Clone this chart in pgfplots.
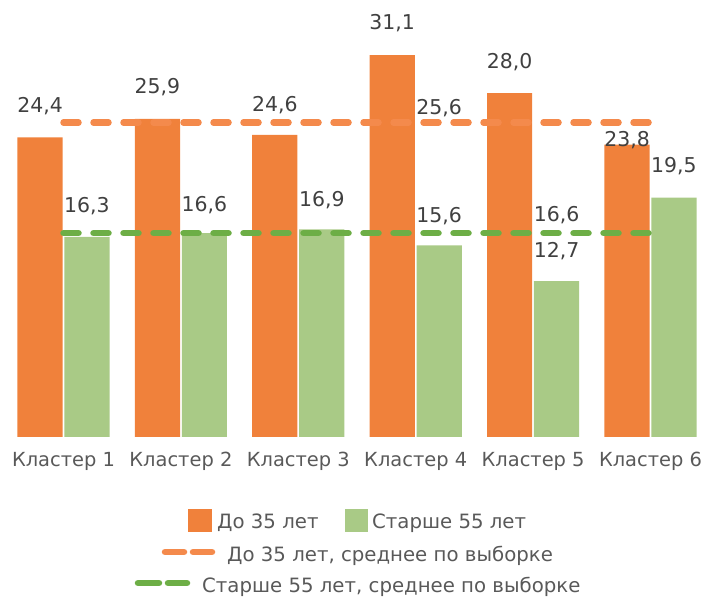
\documentclass[border=0pt]{standalone}
\usepackage{fontspec}
\setmainfont{DejaVu Sans}
\usepackage{pgfplots}
\pgfplotsset{compat=1.18}
\definecolor{obar}{HTML}{F0813B}
\definecolor{gbar}{HTML}{A9CA86}
\definecolor{oline}{HTML}{F48A4C}
\definecolor{gline}{HTML}{6DAE46}
\definecolor{txt}{HTML}{404040}
\definecolor{txtl}{HTML}{595959}
\begin{document}
\begin{tikzpicture}
\path[use as bounding box] (0,0) rectangle (708bp,598bp);
\begin{axis}[
  at={(4.8bp,161bp)}, anchor=south west,
  scale only axis, width=704.4bp, height=417.5bp,
  xmin=-0.5, xmax=5.5, ymin=0, ymax=34,
  clip=false,
  axis x line*=bottom, x axis line style={draw=none},
  hide y axis,
  xtick={0,1,2,3,4,5}, xtick style={draw=none},
  xticklabels={Кластер 1,Кластер 2,Кластер 3,Кластер 4,Кластер 5,Кластер 6},
  xticklabel style={anchor=base, yshift=-30bp, text=txtl, font=\fontsize{19.5}{19.5}\selectfont, inner sep=0pt},
]
\addplot[ybar, fill=obar, draw=none, bar width=0.385, bar shift=-0.2]
  coordinates {(0,24.4) (1,25.9) (2,24.6) (3,31.1) (4,28.0) (5,23.8)};
\addplot[ybar, fill=gbar, draw=none, bar width=0.385, bar shift=0.2]
  coordinates {(0,16.3) (1,16.6) (2,16.9) (3,15.6) (4,12.7) (5,19.5)};
\addplot[oline, line width=6.5bp, dash pattern=on 15bp off 15bp, line cap=round]
  coordinates {(0,25.6) (5,25.6)};
\addplot[gline, line width=6.5bp, dash pattern=on 15bp off 15bp, line cap=round]
  coordinates {(0,16.6) (5,16.6)};
\begin{scope}[every node/.style={font=\fontsize{20.5}{20.5}\selectfont, text=txt}]
\node at (axis cs:-0.2,26.95) {24,4};
\node at (axis cs:0.8,28.5) {25,9};
\node at (axis cs:1.8,27.0) {24,6};
\node at (axis cs:2.8,33.7) {31,1};
\node at (axis cs:3.8,30.5) {28,0};
\node at (axis cs:4.8,24.2) {23,8};
\node at (axis cs:0.2,18.8) {16,3};
\node at (axis cs:1.2,18.9) {16,6};
\node at (axis cs:2.2,19.3) {16,9};
\node at (axis cs:3.2,18.0) {15,6};
\node at (axis cs:4.2,15.15) {12,7};
\node at (axis cs:5.2,22.07) {19,5};
\node at (axis cs:3.2,26.8) {25,6};
\node at (axis cs:4.2,18.04) {16,6};
\end{scope}
\end{axis}
% legend
\begin{scope}[every node/.style={font=\fontsize{19.8}{19.8}\selectfont, text=txtl, inner sep=0pt, anchor=base west}]
\fill[obar] (188bp,66bp) rectangle (212bp,89bp);
\node at (217bp,69.5bp) {До 35 лет};
\fill[gbar] (345bp,66bp) rectangle (368bp,89bp);
\node at (372bp,69.5bp) {Старше 55 лет};
\draw[oline, line width=6.5bp, line cap=round] (165bp,46bp)--(184bp,46bp) (193bp,46bp)--(212bp,46bp);
\node at (227bp,37bp) {До 35 лет, среднее по выборке};
\draw[gline, line width=6.5bp, line cap=round] (138bp,15bp)--(159bp,15bp) (168bp,15bp)--(187bp,15bp);
\node at (202bp,6bp) {Старше 55 лет, среднее по выборке};
\end{scope}
\end{tikzpicture}
\end{document}
